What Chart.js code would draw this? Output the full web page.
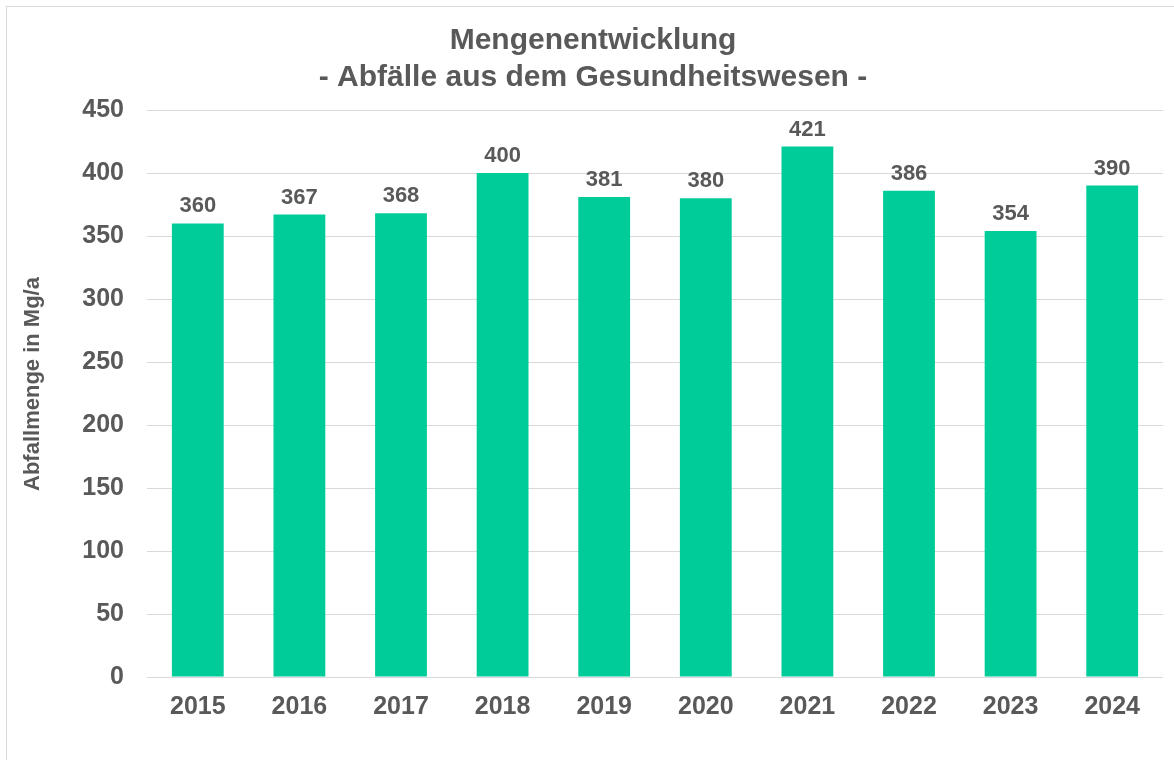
<!DOCTYPE html>
<html>
<head>
<meta charset="utf-8">
<script src="https://cdn.jsdelivr.net/npm/chart.js@4/dist/chart.umd.min.js"></script>
<style>
  html, body { margin: 0; padding: 0; background: #fff; }
  #wrap { width: 1174px; height: 760px; position: relative; }
</style>
</head>
<body>
<div id="wrap"><canvas id="mengeChart"></canvas></div>
<script>
// data
const years = ['2015', '2016', '2017', '2018', '2019', '2020', '2021', '2022', '2023', '2024'];
const amounts = [360, 367, 368, 400, 381, 380, 421, 386, 354, 390];
const titleLines = ['Mengenentwicklung', '- Abfälle aus dem Gesundheitswesen -'];
const yAxisTitle = 'Abfallmenge in Mg/a';
const yMax = 450;
const yStep = 50;

const textGrey = '#595959';
const barGreen = '#00CC99';
const gridGrey = '#d9d9d9';
const fontFam = '"Liberation Sans", Arial, sans-serif';

// frame, two line title and the axis title, placed like the original
const framePlugin = {
  id: 'frame',
  beforeDraw(chart) {
    const ctx = chart.ctx;
    ctx.save();
    ctx.strokeStyle = gridGrey;
    ctx.lineWidth = 1;
    ctx.strokeRect(6.5, 6.5, 1300, 1000);
    ctx.restore();
  },
  afterDraw(chart) {
    const ctx = chart.ctx;
    ctx.save();
    ctx.fillStyle = textGrey;
    ctx.font = 'bold 30px ' + fontFam;
    ctx.textAlign = 'center';
    ctx.textBaseline = 'alphabetic';
    ctx.fillText(titleLines[0], 593, 49);
    ctx.fillText(titleLines[1], 593, 86);

    ctx.translate(33, 384);
    ctx.rotate(-Math.PI / 2);
    ctx.font = 'bold 22px ' + fontFam;
    ctx.textBaseline = 'middle';
    ctx.fillText(yAxisTitle, 0, 0);
    ctx.restore();
  }
};

// value labels above the bars
const valueLabels = {
  id: 'valueLabels',
  afterDatasetsDraw(chart) {
    const ctx = chart.ctx;
    const meta = chart.getDatasetMeta(0);
    ctx.save();
    ctx.fillStyle = textGrey;
    ctx.font = 'bold 22px ' + fontFam;
    ctx.textAlign = 'center';
    ctx.textBaseline = 'alphabetic';
    meta.data.forEach(function(bar, i) {
      ctx.fillText(String(amounts[i]), bar.x, bar.y - 11);
    });
    ctx.restore();
  }
};

var ctx = document.getElementById('mengeChart').getContext('2d');
var mengeChart = new Chart(ctx, {
  type: 'bar',
  data: {
    labels: years,
    datasets: [{
      data: amounts,
      backgroundColor: barGreen,
      borderWidth: 0,
      categoryPercentage: 1,
      barPercentage: 0.51
    }]
  },
  options: {
    responsive: true,
    maintainAspectRatio: false,
    animation: false,
    layout: {
      padding: { top: 110, right: 11, left: 0, bottom: 0 }
    },
    plugins: {
      legend: { display: false },
      title: { display: false },
      tooltip: { enabled: false }
    },
    scales: {
      x: {
        grid: { display: false, drawTicks: false, tickLength: 0 },
        border: { display: false },
        ticks: {
          color: textGrey,
          padding: 15,
          font: { family: fontFam, size: 25, weight: 'bold' }
        },
        afterFit: function(scale) { scale.height = 83; }
      },
      y: {
        min: 0,
        max: yMax,
        grid: { color: gridGrey, lineWidth: 1, drawTicks: false, tickLength: 0 },
        border: { display: false },
        ticks: {
          stepSize: yStep,
          color: textGrey,
          padding: 23,
          font: { family: fontFam, size: 25, weight: 'bold' }
        },
        afterFit: function(scale) { scale.width = 147; }
      }
    }
  },
  plugins: [framePlugin, valueLabels]
});
</script>
</body>
</html>
